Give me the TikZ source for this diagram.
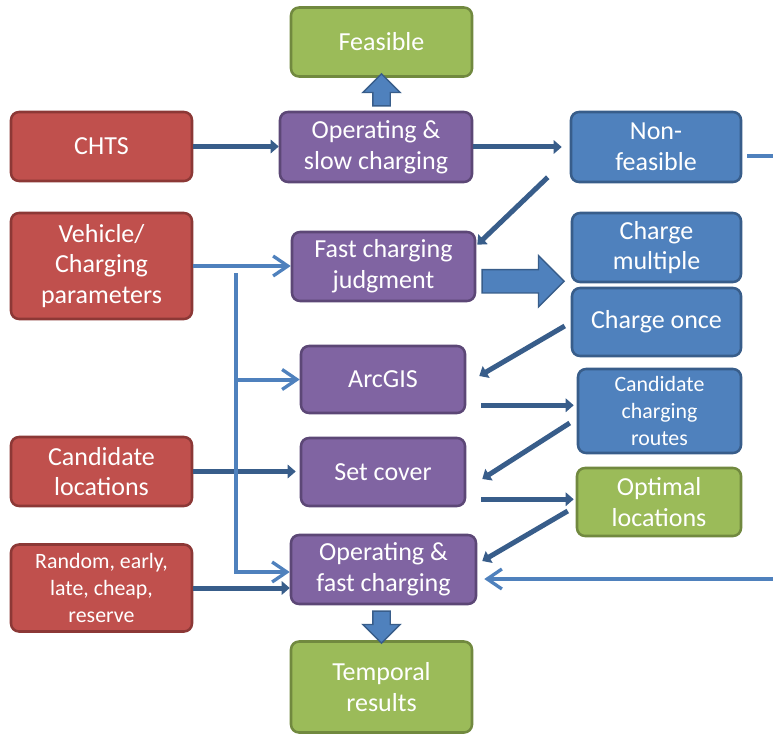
\documentclass[tikz,border=0pt]{standalone}
\usepackage{fontspec}
\setmainfont{Carlito}
\usetikzlibrary{arrows.meta,calc,shapes.arrows}
\definecolor{rojoF}{HTML}{C0504D}
\definecolor{rojoB}{HTML}{8C3836}
\definecolor{moradoF}{HTML}{8064A2}
\definecolor{moradoB}{HTML}{5C4776}
\definecolor{azulF}{HTML}{4F81BD}
\definecolor{azulB}{HTML}{385D8A}
\definecolor{verdeF}{HTML}{9BBB59}
\definecolor{verdeB}{HTML}{71893F}
\newdimen\pxl
\pxl=0.75pt
\tikzset{
caja/.style={rectangle,rounded corners=6pt,line width=1.9pt,text=white,align=center,inner sep=2pt,font=\fontsize{19.5}{23}\selectfont},
cajachica/.style={font=\fontsize{16.4}{20}\selectfont},
entrada/.style={caja,fill=rojoF,draw=rojoB},
proceso/.style={caja,fill=moradoF,draw=moradoB},
salida/.style={caja,fill=azulF,draw=azulB},
resultado/.style={caja,fill=verdeF,draw=verdeB},
enlace/.style={azulB,line width=3.75pt,-{Triangle[length=6pt,width=10pt]}},
rama/.style={azulF,line width=3pt,-{Straight Barb[length=11pt,width=15pt,line width=2.5pt]}},
bloque/.style={single arrow,draw=azulB,fill=azulF,line width=1pt,inner xsep=0pt,inner ysep=6pt,single arrow head extend=7.5pt,minimum width=0pt}
}
\begin{document}
\begin{tikzpicture}[x=0.75pt,y=-0.75pt]
    \useasboundingbox (0,0) rectangle (773,734);

    % datos de entrada
    \node[entrada,minimum width=181\pxl,minimum height=69\pxl] (chts) at (101.5,146.5) {CHTS};
    \node[entrada,minimum width=181\pxl,minimum height=106\pxl] (vehicle) at (101.5,266) {Vehicle/\\Charging\\parameters};
    \node[entrada,minimum width=181\pxl,minimum height=69\pxl] (candloc) at (101.5,471.5) {Candidate\\locations};
    \node[entrada,cajachica,minimum width=181\pxl,minimum height=87\pxl] (random) at (101.5,588) {Random, early,\\late, cheap,\\reserve};

    % procesos
    \node[proceso,minimum width=192\pxl,minimum height=70\pxl] (opslow) at (376,147) {Operating \&\\slow charging};
    \node[proceso,minimum width=183\pxl,minimum height=69\pxl] (judge) at (383.5,266.5) {Fast charging\\judgment};
    \node[proceso,minimum width=164\pxl,minimum height=67\pxl] (arcgis) at (383,379.5) {ArcGIS};
    \node[proceso,minimum width=164\pxl,minimum height=68\pxl] (setcover) at (383,472) {Set cover};
    \node[proceso,minimum width=185\pxl,minimum height=69\pxl] (opfast) at (383.5,569.5) {Operating \&\\fast charging};

    % salidas
    \node[resultado,minimum width=181\pxl,minimum height=69\pxl] (feasible) at (381.5,42) {Feasible};
    \node[salida,minimum width=170\pxl,minimum height=70\pxl] (nonfeas) at (656,147) {Non-\\feasible};
    \node[salida,minimum width=169\pxl,minimum height=69\pxl] (multiple) at (656.5,247.5) {Charge\\multiple};
    \node[salida,minimum width=169\pxl,minimum height=68\pxl] (once) at (656.5,322) {Charge once};
    \node[salida,cajachica,minimum width=163\pxl,minimum height=84\pxl] (routes) at (659.5,411) {Candidate\\charging\\routes};
    \node[resultado,minimum width=164\pxl,minimum height=68\pxl] (optimal) at (659,502) {Optimal\\locations};
    \node[resultado,minimum width=181\pxl,minimum height=91\pxl] (temporal) at (381.5,687) {Temporal\\results};

    % flechas gruesas
    \node[bloque,rotate=90,minimum height=24pt] (upArrow) at ($(feasible.south)!0.5!(feasible.south |- opslow.north)$) {};
    \node[bloque,rotate=-90,minimum height=24pt] (downArrow) at ($(temporal.north)!0.5!(temporal.north |- opfast.south)$) {};
    \node[bloque,inner ysep=8.25pt,single arrow head extend=10.5pt,minimum height=61.5pt] (fatArrow) at ($(judge.south east)+(41,-21)$) {};

    % enlaces
    \draw[enlace] (chts.east) -- (chts.east -| opslow.west);
    \draw[enlace] (opslow.east) -- ($(opslow.east -| nonfeas.west)+(-8,0)$);
    \draw[enlace] ($(nonfeas.south west)+(-22,-6)$) -- ($(judge.north east)+(1,14)$);
    \draw[enlace] ($(once.west)+(-6,4)$) -- ($(arcgis.east)+(13,-3.5)$);
    \draw[enlace] ($(arcgis.south east)+(15,-9)$) -- ($(arcgis.south east -| routes.west)+(-3,-9)$);
    \draw[enlace] ($(routes.west)+(-7,12)$) -- ($(setcover.east)+(16,7)$);
    \draw[enlace] ($(setcover.south east)+(15,-8)$) -- ($(setcover.south east -| optimal.west)+(-2,-8)$);
    \draw[enlace] ($(optimal.west)+(-8,9)$) -- ($(opfast.east)+(5,-8.5)$);
    \draw[enlace] (candloc.east) -- ($(candloc.east -| setcover.west)+(-4,0)$);
    \draw[enlace] (random.east) -- (random.east -| opfast.west);

    % ramas de parametros
    \coordinate (trunk) at (236,273);
    \draw[rama] (vehicle.east) -- (vehicle.east -| judge.west);
    \draw[rama] (trunk |- arcgis.west) -- (arcgis.west);
    \draw[rama] (trunk) |- ($(opfast.west)+(0,2.5)$);

    % lazo de no factibles
    \coordinate (outR) at (773,156);
    \coordinate (inR) at (773,579);
    \draw[azulF,line width=3pt] ($(nonfeas.east)+(5,9)$) -- (outR);
    \draw[rama] (inR) -- ($(opfast.east)+(7,9.5)$);
\end{tikzpicture}
\end{document}
